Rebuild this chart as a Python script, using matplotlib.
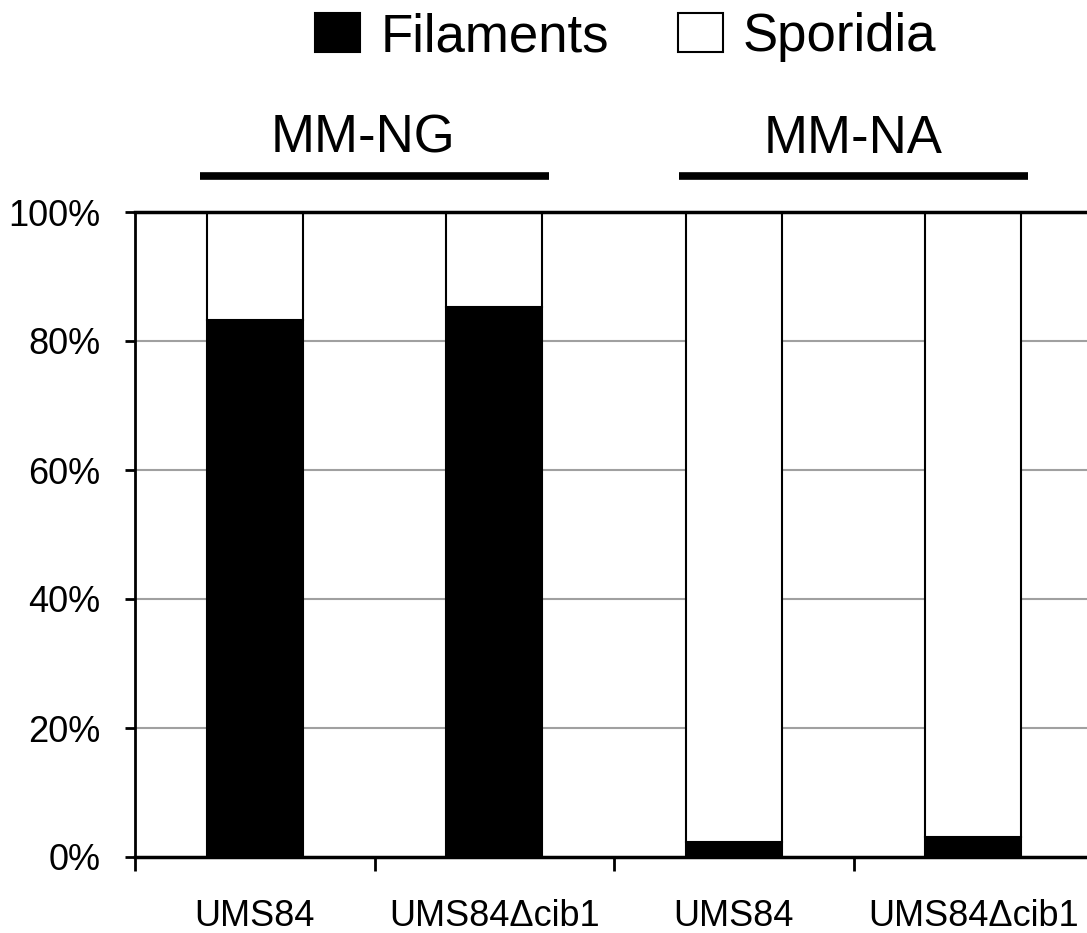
import matplotlib
matplotlib.use("Agg")
import matplotlib.pyplot as plt
import matplotlib.transforms as mtransforms
from matplotlib.patches import Patch
import numpy as np

plt.rcParams['font.family'] = ['Liberation Sans', 'DejaVu Sans']

strains = ["UMS84", "UMS84\u0394cib1", "UMS84", "UMS84\u0394cib1"]
filaments = [83.3, 85.2, 2.3, 3.1]
sporidia = [100 - v for v in filaments]
groups = ["MM-NG", "MM-NA"]
group_members = [[0, 1], [2, 3]]
yticks = [0, 20, 40, 60, 80, 100]
series_names = ["Filaments", "Sporidia"]

W, H = 1087, 933
fig = plt.figure(figsize=(W / 100, H / 100), dpi=100)
ax = fig.add_axes([135 / W, 76 / H, 958 / W, 645 / H])

x = np.arange(len(strains))
ax.bar(x, filaments, width=0.4, color='black', edgecolor='black', linewidth=1.5, zorder=3)
ax.bar(x, sporidia, bottom=filaments, width=0.4, color='white', edgecolor='black', linewidth=1.5, zorder=3)

ax.set_xlim(-0.5, len(strains) - 0.5)
ax.set_ylim(0, 100)
ax.set_yticks(yticks)
ax.set_yticklabels([f"{v}%" for v in yticks], fontsize=26)
for v in yticks[1:-1]:
    ax.axhline(v, color='#a0a0a0', linewidth=1.5, zorder=1)
ax.axhline(100, color='black', linewidth=2.5, zorder=4, clip_on=False)

ax.set_xticks(np.arange(-0.5, len(strains) - 0.5, 1.0))
ax.set_xticklabels([])
ax.set_xticks(x, minor=True)
ax.set_xticklabels(strains, minor=True, fontsize=26)
ax.tick_params(axis='x', which='major', length=10, width=2, direction='out')
ax.tick_params(axis='x', which='minor', length=0, pad=30)
ax.tick_params(axis='y', length=7, width=2, direction='out', pad=18)

for s in ['top', 'right']:
    ax.spines[s].set_visible(False)
ax.spines['left'].set_linewidth(2)
ax.spines['bottom'].set_linewidth(2.5)

trans = mtransforms.blended_transform_factory(ax.transData, ax.transAxes)
offsets = [-0.05, 0.0]
for name, members, off in zip(groups, group_members, offsets):
    c = np.mean(members)
    ax.plot([c - 0.73, c + 0.73], [1.056, 1.056], color='black', linewidth=5.5,
            transform=trans, clip_on=False, solid_capstyle='butt')
    ax.text(c + off, 1.0915, name, transform=trans, ha='center', va='baseline', fontsize=38)

handles = [Patch(facecolor='black', edgecolor='black', linewidth=1.5),
           Patch(facecolor='white', edgecolor='black', linewidth=1.5)]
fig.legend(handles, series_names, loc='center left', bbox_to_anchor=(315 / W, 1 - 37 / H),
           ncol=2, frameon=False, fontsize=38, handlelength=0.86, handleheight=0.75,
           handletextpad=0.38, columnspacing=1.3, borderpad=0, borderaxespad=0)

fig.savefig("out.png", dpi=100)
